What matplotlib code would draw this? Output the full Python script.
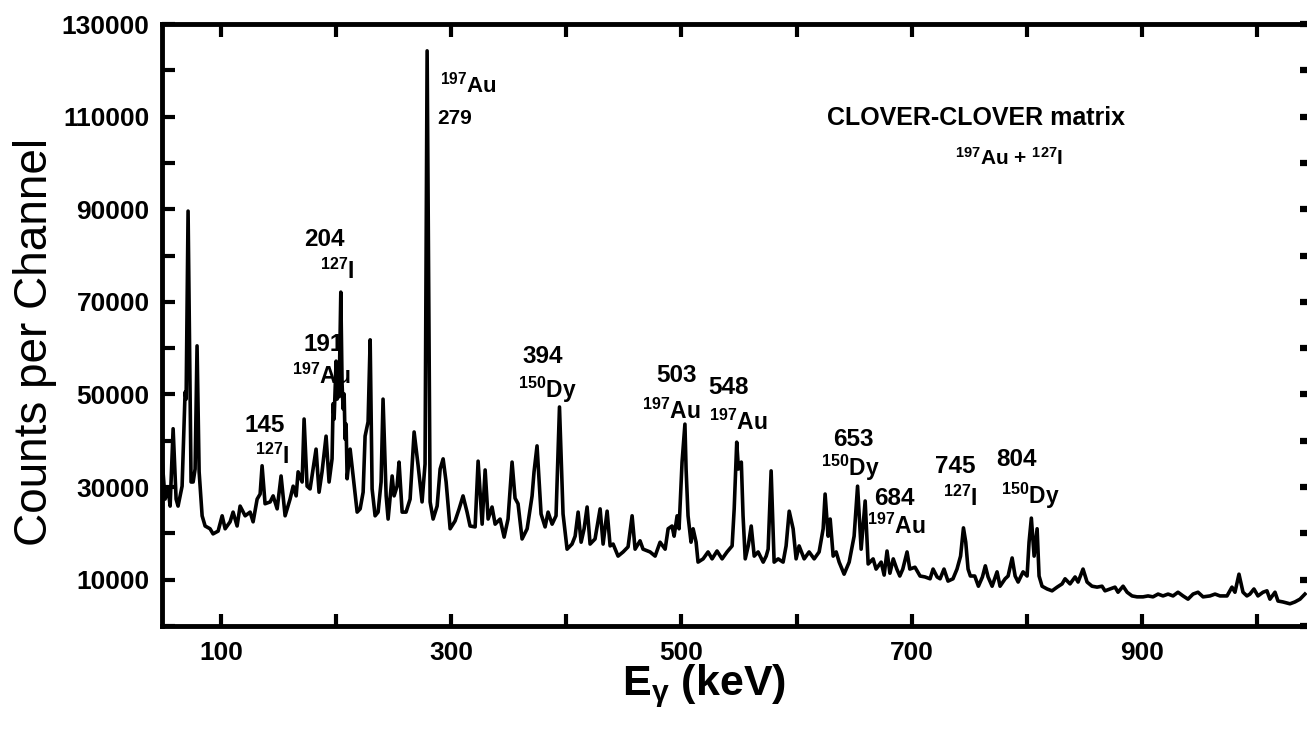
import matplotlib
matplotlib.use("Agg")
import matplotlib.pyplot as plt
from matplotlib.ticker import FixedLocator, FixedFormatter, NullFormatter

# Gamma-ray spectrum, CLOVER-CLOVER matrix (197Au + 127I)
energy_kev = [
    46.1, 47.0, 48.7, 51.3, 54.0, 55.7, 58.3, 60.9, 62.6, 66.1,
    68.7, 69.6, 71.3, 73.1, 73.9, 75.7, 77.4, 79.1, 80.9, 83.5,
    86.1, 90.4, 93.0, 97.4, 100.9, 103.5, 107.8, 110.4, 113.9, 116.5,
    120.9, 125.2, 127.8, 131.3, 133.9, 135.6, 138.2, 142.6, 145.2, 148.7,
    152.1, 155.6, 159.9, 162.6, 165.2, 166.9, 170.4, 172.1, 174.7, 177.3,
    179.9, 182.5, 185.1, 187.7, 191.2, 193.8, 196.4, 197.3, 198.2, 199.9,
    200.8, 201.6, 202.5, 204.0, 205.1, 206.0, 206.9, 207.7, 208.6, 209.5,
    212.1, 214.7, 218.2, 220.8, 223.4, 225.1, 227.7, 229.5, 231.2, 233.8,
    236.4, 239.0, 240.7, 243.4, 245.1, 248.6, 250.3, 252.9, 254.6, 257.3,
    260.7, 264.2, 267.7, 271.2, 274.6, 277.2, 279.0, 281.6, 284.2, 287.7,
    290.3, 292.9, 295.5, 299.0, 303.3, 306.8, 310.2, 313.7, 316.3, 320.7,
    323.3, 326.8, 329.4, 332.0, 335.4, 338.1, 342.4, 345.9, 349.3, 352.8,
    355.4, 358.0, 361.5, 365.9, 370.2, 371.9, 374.5, 378.0, 381.5, 384.1,
    387.6, 391.0, 394.0, 397.1, 400.6, 404.9, 407.6, 410.2, 412.8, 415.4,
    418.0, 420.6, 424.9, 429.3, 431.9, 435.4, 438.0, 440.6, 444.9, 449.3,
    453.6, 457.1, 459.7, 464.0, 466.6, 472.7, 477.1, 481.4, 485.8, 488.4,
    491.8, 493.6, 496.2, 497.9, 500.5, 503.0, 504.0, 505.7, 508.3, 510.1,
    512.7, 514.4, 518.8, 523.1, 526.6, 530.9, 535.3, 539.6, 544.0, 545.8,
    548.0, 549.5, 552.0, 553.5, 555.4, 558.0, 560.6, 563.2, 566.6, 571.0,
    573.6, 575.3, 577.9, 580.5, 584.0, 588.3, 590.9, 593.6, 597.0, 599.6,
    602.2, 606.6, 610.9, 615.3, 619.6, 623.1, 624.8, 627.4, 629.2, 631.8,
    634.4, 637.0, 641.3, 645.7, 650.0, 653.0, 656.1, 659.6, 662.2, 666.5,
    669.1, 673.5, 676.1, 678.6, 681.1, 684.0, 687.1, 689.7, 692.3, 696.0,
    698.4, 702.9, 707.3, 711.6, 716.0, 718.6, 722.1, 724.7, 728.1, 731.6,
    735.9, 739.4, 742.5, 745.0, 747.0, 749.0, 751.0, 754.8, 758.0, 761.5,
    764.0, 766.4, 769.9, 774.2, 776.8, 781.2, 783.8, 787.3, 789.9, 792.5,
    796.8, 800.3, 802.0, 804.0, 806.4, 809.0, 810.7, 813.3, 817.7, 822.0,
    826.4, 830.7, 833.3, 837.6, 842.0, 844.6, 848.9, 852.4, 856.7, 861.1,
    865.4, 868.0, 872.4, 876.7, 879.3, 883.7, 887.2, 891.5, 895.8, 901.0,
    905.4, 909.7, 914.1, 918.4, 922.8, 927.1, 931.4, 935.8, 940.1, 944.5,
    948.8, 953.2, 959.2, 963.6, 967.9, 974.0, 978.3, 980.9, 984.4, 987.9,
    991.3, 993.9, 997.4, 1000.9, 1005.3, 1008.7, 1011.3, 1015.7, 1018.3, 1022.6,
    1028.7, 1033.0, 1037.4, 1041.7,
]

counts = [
    33900, 29600, 36100, 27400, 29600, 25900, 42600, 27400, 25900, 30200,
    50500, 49000, 89600, 49000, 31100, 31100, 33900, 60500, 33300, 23800,
    21600, 21000, 19900, 20500, 23800, 21000, 22500, 24600, 21600, 25900,
    23800, 24600, 22500, 27400, 28500, 34600, 26400, 26800, 28100, 25300,
    32400, 23800, 27400, 30200, 28100, 33300, 31100, 44700, 30200, 29600,
    33900, 38200, 28900, 33300, 41000, 31100, 36100, 48000, 44700, 57200,
    49000, 55100, 49500, 72100, 52300, 46900, 50100, 40400, 43600, 31800,
    38200, 32400, 24600, 25300, 28900, 41000, 44100, 61800, 29600, 23800,
    24600, 31100, 49000, 28100, 23100, 32400, 28100, 30200, 35400, 24600,
    24600, 27400, 41900, 34600, 26800, 35000, 124200, 26800, 23100, 25900,
    33900, 36100, 31100, 21000, 22700, 25300, 28100, 24600, 21600, 21400,
    35600, 22000, 33700, 23100, 25700, 22000, 23100, 19200, 23100, 35400,
    27600, 26400, 18800, 21000, 28100, 33300, 38900, 24200, 21400, 24600,
    22000, 23800, 47300, 24200, 16600, 17700, 19400, 24600, 18100, 21000,
    25700, 17700, 18800, 25300, 17700, 24800, 17300, 17700, 15100, 16000,
    17100, 23800, 16600, 18400, 16600, 16000, 15100, 18100, 16600, 21000,
    21600, 19400, 23800, 21000, 35400, 43600, 33900, 23800, 18100, 21000,
    18100, 13800, 14500, 16000, 14500, 16200, 14500, 16000, 17300, 25300,
    39700, 33900, 35400, 23800, 14500, 17300, 21600, 15100, 16000, 13800,
    15100, 16600, 33500, 13800, 14500, 13800, 17300, 24800, 21000, 14500,
    17300, 14500, 16000, 14500, 16000, 21000, 28500, 19400, 23100, 15100,
    16000, 13800, 11200, 13800, 19400, 30200, 16600, 27000, 13400, 14500,
    12300, 13800, 11000, 16200, 11400, 14500, 12300, 10800, 12300, 16000,
    12300, 12700, 10800, 10600, 10200, 12300, 10600, 10200, 12300, 9700,
    10200, 12300, 15100, 21200, 18100, 12300, 10800, 10800, 8600, 10600,
    13000, 10600, 8600, 11700, 8600, 10200, 10800, 14700, 10800, 9500,
    11700, 10800, 18100, 23300, 15100, 21000, 10800, 8600, 8000, 7600,
    8400, 9100, 10200, 9100, 10600, 9500, 12300, 9500, 8600, 8400,
    8600, 7600, 8000, 8400, 7300, 8600, 7300, 6500, 6300, 6300,
    6500, 6300, 6900, 6500, 6900, 6500, 7300, 6500, 5800, 6900,
    7300, 6300, 6500, 6900, 6500, 6500, 8400, 7300, 11200, 7300,
    6500, 6900, 8000, 6500, 7300, 7600, 5800, 7300, 5400, 5200,
    4800, 5200, 5800, 6900,
]

x_ticks = [100, 200, 300, 400, 500, 600, 700, 800, 900, 1000]
x_tick_labels = ["100", "", "300", "", "500", "", "700", "", "900", ""]
y_ticks = [0, 10000, 20000, 30000, 40000, 50000, 60000, 70000,
           80000, 90000, 100000, 110000, 120000, 130000]
y_tick_labels = ["", "10000", "", "30000", "", "50000", "", "70000",
                 "", "90000", "", "110000", "", "130000"]

SANS = ["Liberation Sans", "DejaVu Sans"]
plt.rcParams["mathtext.default"] = "regular"

fig = plt.figure(figsize=(13.07, 7.34), dpi=100)
ax = fig.add_axes([0.1240, 0.1471, 0.8760, 0.8202])

ax.plot(energy_kev, counts, color="black", lw=2.6, solid_joinstyle="round",
        zorder=3)

ax.set_xlim(48.7, 1043.5)
ax.set_ylim(0, 130000)

ax.xaxis.set_major_locator(FixedLocator(x_ticks))
ax.xaxis.set_major_formatter(FixedFormatter(x_tick_labels))
ax.yaxis.set_major_locator(FixedLocator(y_ticks))
ax.yaxis.set_major_formatter(FixedFormatter(y_tick_labels))

ax.tick_params(axis="both", direction="in", length=9, width=3,
               top=True, right=False, labelsize=19, colors="black")
ax.tick_params(axis="x", pad=11)
ax.tick_params(axis="y", pad=9)
for lab in ax.get_xticklabels() + ax.get_yticklabels():
    lab.set_family(SANS)
    lab.set_weight("bold")

# short dot-like ticks along the right edge
rax = ax.twinx()
rax.set_ylim(ax.get_ylim())
rax.yaxis.set_major_locator(FixedLocator(y_ticks))
rax.yaxis.set_major_formatter(NullFormatter())
rax.tick_params(axis="y", direction="in", length=5, width=4.5)
for side in rax.spines.values():
    side.set_visible(False)

for side in ("left", "bottom", "top"):
    ax.spines[side].set_linewidth(3.5)
ax.spines["right"].set_visible(False)

ax.set_ylabel("Counts per Channel", fontsize=33, family=SANS)
ax.yaxis.set_label_coords(-0.092, 0.472)
ax.set_xlabel(r"E$_{\gamma}$ (keV)", fontsize=31, family=SANS, weight="bold")
ax.xaxis.set_label_coords(0.473, -0.061)

txt = dict(family=SANS, weight="bold", ha="center", va="center", zorder=2,
           color="black")
NUM = 17.5
NUC = 16.5

ax.text(756, 109700, "CLOVER-CLOVER matrix", fontsize=18, **txt)
ax.text(784.6, 101100, r"$^{197}$Au + $^{127}$I", fontsize=15, **txt)

ax.text(290.0, 116900, r"$^{197}$Au", fontsize=16, **{**txt, "ha": "left"})
ax.text(287.7, 109700, "279", fontsize=15, **{**txt, "ha": "left"})

ax.text(189.5, 83400, "204", fontsize=NUM, **txt)
ax.text(201.0, 76500, r"$^{127}$I", fontsize=NUC, **txt)

ax.text(189.1, 60900, "191", fontsize=NUM, **txt)
ax.text(187.0, 54000, r"$^{197}$Au", fontsize=NUC, **txt)

ax.text(138.2, 43400, "145", fontsize=NUM, **txt)
ax.text(144.3, 36700, r"$^{127}$I", fontsize=NUC, **txt)

ax.text(379.8, 58300, "394", fontsize=NUM, **txt)
ax.text(383.2, 51000, r"$^{150}$Dy", fontsize=NUC, **txt)

ax.text(495.3, 54000, "503", fontsize=NUM, **txt)
ax.text(491.0, 46400, r"$^{197}$Au", fontsize=NUC, **txt)

ax.text(540.5, 51400, "548", fontsize=NUM, **txt)
ax.text(549.2, 44000, r"$^{197}$Au", fontsize=NUC, **txt)

ax.text(649.1, 40300, "653", fontsize=NUM, **txt)
ax.text(646.5, 34100, r"$^{150}$Dy", fontsize=NUC, **txt)

ax.text(684.7, 27500, "684", fontsize=NUM, **txt)
ax.text(686.4, 21600, r"$^{197}$Au", fontsize=NUC, **txt)

ax.text(737.7, 34500, "745", fontsize=NUM, **txt)
ax.text(742.0, 27600, r"$^{127}$I", fontsize=NUC, **txt)

ax.text(790.7, 35900, "804", fontsize=NUM, **txt)
ax.text(802.9, 28100, r"$^{150}$Dy", fontsize=NUC, **txt)

fig.savefig("out.png", dpi=100)
